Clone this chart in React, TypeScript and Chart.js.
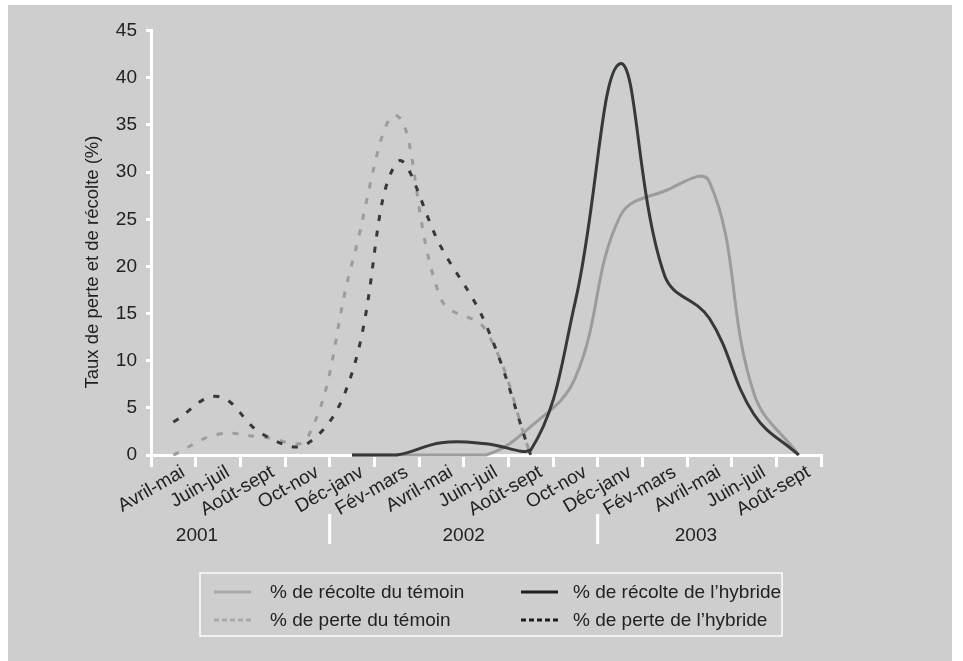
import React, { useEffect, useRef } from "react";
import { Chart, registerables } from "chart.js";

Chart.register(...registerables);

// ---------- data ----------
const categories = [
  "Avril-mai", "Juin-juil", "Août-sept", "Oct-nov",
  "Déc-janv", "Fév-mars", "Avril-mai", "Juin-juil", "Août-sept", "Oct-nov",
  "Déc-janv", "Fév-mars", "Avril-mai", "Juin-juil", "Août-sept",
];
const years = ["2001", "2002", "2003"];
const yearGroupStarts = [0, 4, 10];

const recolteTemoin = [null, null, null, null, 0, 0, 0, 0, 3.0, 8.2, 25.3, 28, 29, 6.5, 0];
const perteTemoin = [0, 2.2, 1.9, 1.8, 20.3, 36, 16.5, 13.2, 0, null, null, null, null, null, null];
const recolteHybride = [null, null, null, null, 0, 0, 1.3, 1.2, 0.5, 16.3, 41.5, 19, 14.5, 4.3, 0];
const perteHybride = [3.5, 6.2, 2.2, 1.2, 8.7, 31, 22, 13.8, 0, null, null, null, null, null, null];

const seriesLabels = [
  "% de récolte du témoin",
  "% de perte du témoin",
  "% de récolte de l’hybride",
  "% de perte de l’hybride",
];
const yTicks = [0, 5, 10, 15, 20, 25, 30, 35, 40, 45];
const yTitle = "Taux de perte et de récolte (%)";

// ---------- layout / style ----------
const W = 944;
const H = 656;
const FONT = "'Liberation Sans', Arial, sans-serif";
const TEXT = "#222222";
const LIGHT = "#9c9c9c";
const DARK = "#333a37";
const yearLabelPos = [1.03, 7.0, 12.2]; // in category-boundary units

const decorPlugin = {
  id: "decor",
  afterDraw(chart: any) {
    const { ctx } = chart;
    const x = chart.scales.x;
    const n = categories.length;
    const bx = (k: number) => x.left + (k * (x.right - x.left)) / n;
    ctx.save();
    // year separators
    ctx.strokeStyle = "#ffffff";
    ctx.lineWidth = 3;
    yearGroupStarts.slice(1).forEach((k) => {
      const px = bx(k);
      ctx.beginPath();
      ctx.moveTo(px, 509);
      ctx.lineTo(px, 539);
      ctx.stroke();
    });
    // year labels
    ctx.fillStyle = TEXT;
    ctx.font = `19px ${FONT}`;
    ctx.textAlign = "center";
    ctx.textBaseline = "middle";
    years.forEach((yr, i) => {
      ctx.fillText(yr, bx(yearLabelPos[i]), 531);
    });
    // y title
    ctx.save();
    ctx.translate(85, 257);
    ctx.rotate(-Math.PI / 2);
    ctx.font = `18.5px ${FONT}`;
    ctx.fillText(yTitle, 0, 0);
    ctx.restore();
    // legend box
    ctx.strokeStyle = "rgba(255,255,255,0.95)";
    ctx.lineWidth = 1.5;
    ctx.strokeRect(192, 568, 582, 63);
    const cols = [206, 513];
    const textX = [262, 565];
    const rows = [587, 615];
    const order = [0, 2, 1, 3]; // row-major: [r1c1, r1c2, r2c1, r2c2]
    ctx.font = `19px ${FONT}`;
    ctx.textAlign = "left";
    order.forEach((di, slot) => {
      const ds = chart.data.datasets[di];
      const r = Math.floor(slot / 2);
      const c = slot % 2;
      const y = rows[r];
      ctx.beginPath();
      ctx.strokeStyle = c === 0 ? "#a8a8a8" : "#1e1e1e";
      ctx.lineWidth = 3;
      ctx.setLineDash(ds.borderDash && ds.borderDash.length ? [5, 3] : []);
      ctx.moveTo(cols[c], y);
      ctx.lineTo(cols[c] + 37, y);
      ctx.stroke();
      ctx.setLineDash([]);
      ctx.fillStyle = TEXT;
      ctx.fillText(ds.label, textX[c], y + 1);
    });
    ctx.restore();
  },
};

export default function App() {
  const ref = useRef<HTMLCanvasElement | null>(null);
  useEffect(() => {
    if (!ref.current) return;
    const chart = new Chart(ref.current, {
      type: "line",
      data: {
        labels: categories,
        datasets: [
          {
            label: seriesLabels[0],
            data: recolteTemoin,
            borderColor: LIGHT,
            borderWidth: 3,
            order: 3,
          },
          {
            label: seriesLabels[1],
            data: perteTemoin,
            borderColor: LIGHT,
            borderWidth: 3,
            borderDash: [6, 10],
            order: 4,
          },
          {
            label: seriesLabels[2],
            data: recolteHybride,
            borderColor: DARK,
            borderWidth: 3,
            order: 1,
          },
          {
            label: seriesLabels[3],
            data: perteHybride,
            borderColor: DARK,
            borderWidth: 3,
            borderDash: [6, 10],
            order: 2,
          },
        ] as any,
      },
      options: {
        animation: false,
        responsive: false,
        maintainAspectRatio: false,
        devicePixelRatio: 1,
        layout: { padding: { top: 25.7, right: 131, left: 0, bottom: 0 } },
        elements: {
          point: { radius: 0, hoverRadius: 0 },
          line: { tension: 0.4, fill: false },
        },
        datasets: { line: { clip: false, spanGaps: false } } as any,
        plugins: {
          legend: { display: false },
          tooltip: { enabled: false },
          title: { display: false },
        },
        scales: {
          x: {
            type: "category",
            offset: true,
            grid: {
              offset: true,
              drawOnChartArea: false,
              drawTicks: true,
              tickLength: 12,
              color: "#ffffff",
              lineWidth: 3,
            },
            border: { display: true, color: "#ffffff", width: 3 },
            ticks: {
              autoSkip: false,
              minRotation: 30,
              maxRotation: 30,
              labelOffset: 10,
              padding: -6,
              color: TEXT,
              font: { family: FONT, size: 19 },
            },
            afterFit(scale: any) {
              scale.height = 206;
            },
          },
          y: {
            min: 0,
            max: 45,
            afterBuildTicks(scale: any) {
              scale.ticks = yTicks.map((v) => ({ value: v }));
            },
            grid: {
              drawOnChartArea: false,
              drawTicks: true,
              tickLength: 5,
              color: "#ffffff",
              lineWidth: 3,
            },
            border: { display: true, color: "#ffffff", width: 3 },
            ticks: {
              padding: 9,
              color: TEXT,
              font: { family: FONT, size: 19 },
            },
            afterFit(scale: any) {
              scale.width = 143;
            },
          },
        },
      },
      plugins: [decorPlugin],
    });
    return () => chart.destroy();
  }, []);

  return (
    <div
      style={{
        position: "absolute",
        left: 8,
        top: 5,
        width: W,
        height: H,
        background: "#cecece",
      }}
    >
      <canvas ref={ref} width={W} height={H} style={{ width: W, height: H, display: "block" }} />
    </div>
  );
}
